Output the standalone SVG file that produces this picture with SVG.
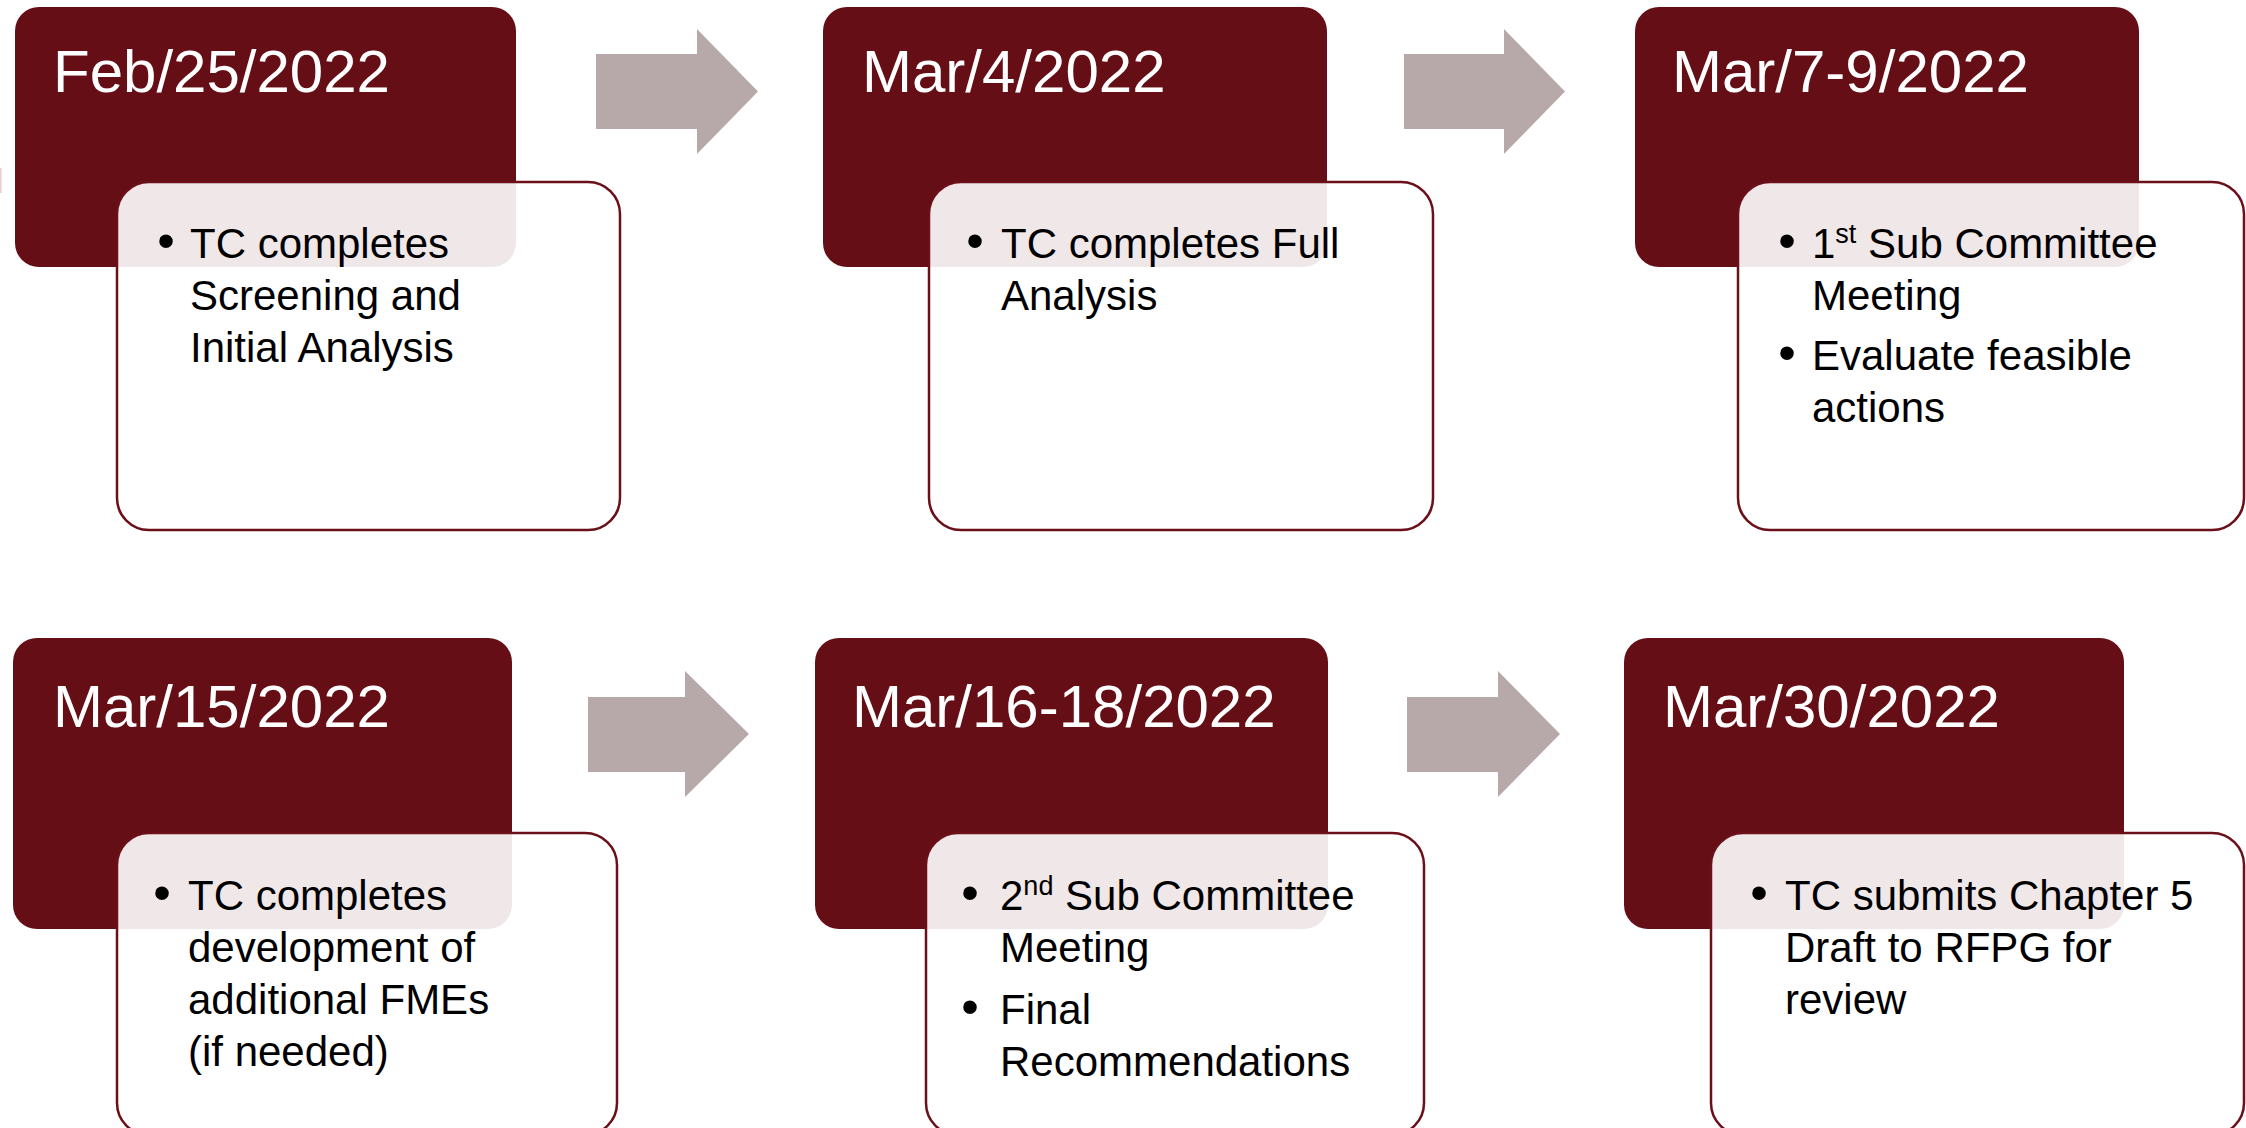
<svg xmlns="http://www.w3.org/2000/svg" width="2246" height="1128" viewBox="0 0 2246 1128">
<style>
.dark{fill:#650E16;}
.card{fill:#FFFFFF;fill-opacity:0.9;stroke:#6B1019;stroke-width:2.5;}
.arrow{fill:#B7A9A9;}
.date{font-family:"Liberation Sans",Arial,sans-serif;font-size:60px;fill:#FFFFFF;}
.body{font-family:"Liberation Sans",Arial,sans-serif;font-size:42px;fill:#000000;}
.bul{font-family:"Liberation Sans",Arial,sans-serif;font-size:50px;fill:#000000;text-anchor:middle;}
</style>
<rect x="0" y="168" width="1.6" height="25" fill="#E6CFD2"/>
<g id="connectors">
<polygon class="arrow" points="596,54 697,54 697,29 758,91.5 697,154 697,129 596,129"/>
<polygon class="arrow" points="1404,54 1504,54 1504,29 1565,91.5 1504,154 1504,129 1404,129"/>
<polygon class="arrow" points="588,697 685,697 685,671 749,734 685,797 685,772 588,772"/>
<polygon class="arrow" points="1407,697 1498,697 1498,671 1560,734 1498,797 1498,772 1407,772"/>
</g>
<g id="node1">
<rect class="dark" x="15" y="7" width="501" height="260" rx="24"/>
<text class="date" x="53" y="92">Feb/25/2022</text>
<rect class="card" x="117" y="182" width="503" height="348" rx="32"/>
<text class="bul" x="166" y="258">•</text>
<text class="body" x="190" y="258">TC completes</text>
<text class="body" x="190" y="310">Screening and</text>
<text class="body" x="190" y="362">Initial Analysis</text>
</g>
<g id="node2">
<rect class="dark" x="823" y="7" width="504" height="260" rx="24"/>
<text class="date" x="862" y="92">Mar/4/2022</text>
<rect class="card" x="929" y="182" width="504" height="348" rx="32"/>
<text class="bul" x="975" y="258">•</text>
<text class="body" x="1001" y="258">TC completes Full</text>
<text class="body" x="1001" y="310">Analysis</text>
</g>
<g id="node3">
<rect class="dark" x="1635" y="7" width="504" height="260" rx="24"/>
<text class="date" x="1672" y="92">Mar/7-9/2022</text>
<rect class="card" x="1738" y="182" width="506" height="348" rx="32"/>
<text class="bul" x="1787" y="258">•</text>
<text class="body" x="1812" y="258">1<tspan font-size="27" dy="-15">st</tspan><tspan dy="15"> Sub Committee</tspan></text>
<text class="body" x="1812" y="310">Meeting</text>
<text class="bul" x="1787" y="370">•</text>
<text class="body" x="1812" y="370">Evaluate feasible</text>
<text class="body" x="1812" y="422">actions</text>
</g>
<g id="node4">
<rect class="dark" x="13" y="638" width="499" height="291" rx="24"/>
<text class="date" x="53" y="727">Mar/15/2022</text>
<rect class="card" x="117" y="833" width="500" height="302" rx="32"/>
<text class="bul" x="162" y="910">•</text>
<text class="body" x="188" y="910">TC completes</text>
<text class="body" x="188" y="962">development of</text>
<text class="body" x="188" y="1014">additional FMEs</text>
<text class="body" x="188" y="1066">(if needed)</text>
</g>
<g id="node5">
<rect class="dark" x="815" y="638" width="513" height="291" rx="24"/>
<text class="date" x="852" y="727">Mar/16-18/2022</text>
<rect class="card" x="926" y="833" width="498" height="302" rx="32"/>
<text class="bul" x="970" y="910">•</text>
<text class="body" x="1000" y="910">2<tspan font-size="27" dy="-15">nd</tspan><tspan dy="15"> Sub Committee</tspan></text>
<text class="body" x="1000" y="962">Meeting</text>
<text class="bul" x="970" y="1024">•</text>
<text class="body" x="1000" y="1024">Final</text>
<text class="body" x="1000" y="1076">Recommendations</text>
</g>
<g id="node6">
<rect class="dark" x="1624" y="638" width="500" height="291" rx="24"/>
<text class="date" x="1663" y="727">Mar/30/2022</text>
<rect class="card" x="1711" y="833" width="533" height="302" rx="32"/>
<text class="bul" x="1759" y="910">•</text>
<text class="body" x="1785" y="910">TC submits Chapter 5</text>
<text class="body" x="1785" y="962">Draft to RFPG for</text>
<text class="body" x="1785" y="1014">review</text>
</g>
</svg>
